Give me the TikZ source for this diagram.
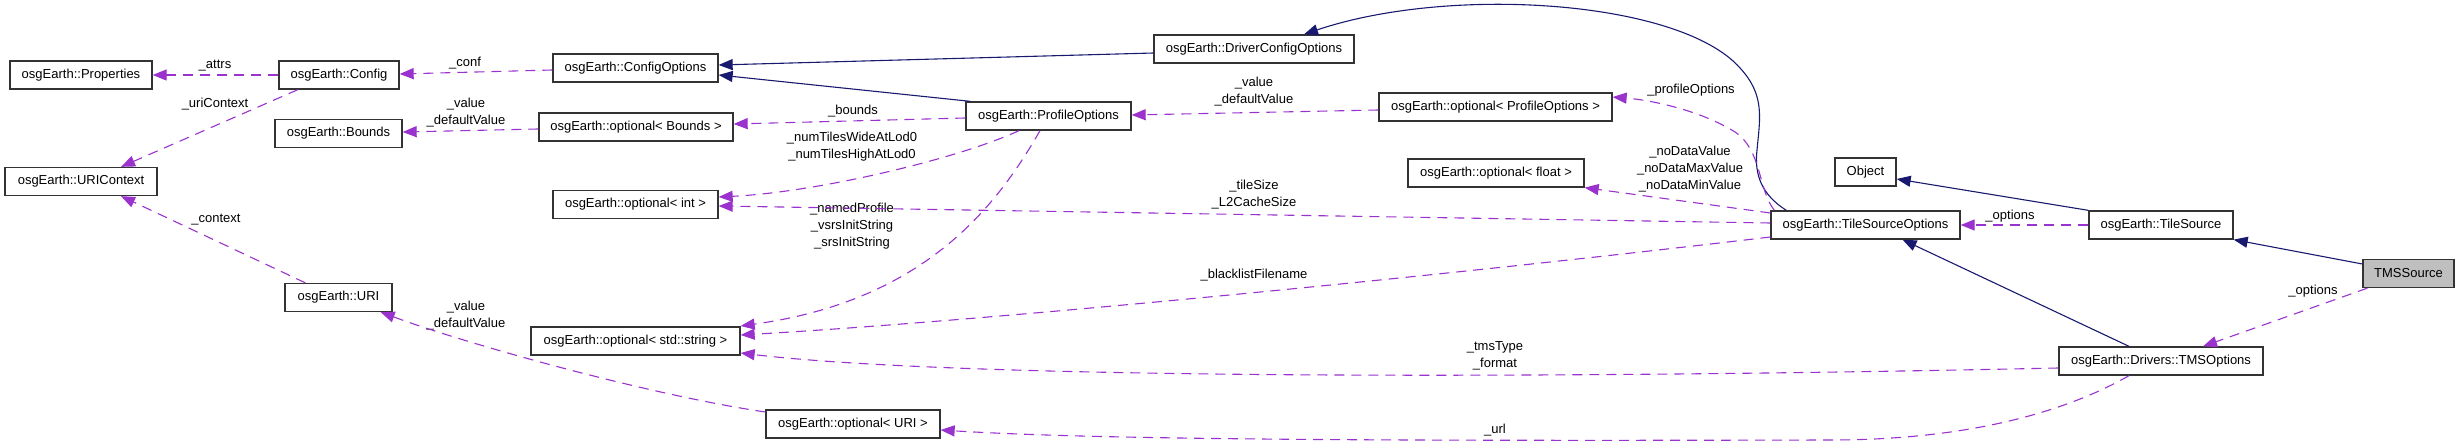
\documentclass[tikz,border=0pt]{standalone}
\usepackage{fontspec}
\setmainfont{Liberation Sans}
\usetikzlibrary{arrows.meta}
\definecolor{inhcol}{HTML}{191970}
\definecolor{usecol}{HTML}{9A32CD}
\begin{document}
\begin{tikzpicture}[x=1pt,y=-1pt,
  box/.style={draw=black!80, fill=white, line width=1.3pt, minimum height=28pt, inner sep=0pt, font=\fontsize{13}{16}\selectfont},
  lbl/.style={font=\fontsize{13}{17}\selectfont, align=center, inner sep=0pt},
  inh/.style={draw=inhcol, line width=1.1pt, -{Triangle[length=14pt,width=11pt]}},
  use/.style={draw=usecol, line width=1.1pt, dash pattern=on 10pt off 7pt, -{Triangle[length=14pt,width=11pt]}},
]
\useasboundingbox (0,0) rectangle (2459,446);
% nodes
\node[box, minimum width=142pt] (prop) at (81,75) {osgEarth::Properties};
\node[box, minimum width=120pt] (conf) at (339,75) {osgEarth::Config};
\node[box, minimum width=127pt] (bounds) at (338.5,133.5) {osgEarth::Bounds};
\node[box, minimum width=152pt] (uric) at (81,181.5) {osgEarth::URIContext};
\node[box, minimum width=107pt] (uri) at (338.5,297.5) {osgEarth::URI};
\node[box, minimum width=165pt] (copt) at (635.5,68) {osgEarth::ConfigOptions};
\node[box, minimum width=194pt] (obnd) at (636,127) {osgEarth::optional< Bounds >};
\node[box, minimum width=165pt] (oint) at (635.5,204.5) {osgEarth::optional< int >};
\node[box, minimum width=209pt] (ostr) at (635.5,341) {osgEarth::optional< std::string >};
\node[box, minimum width=174pt] (ouri) at (853,424) {osgEarth::optional< URI >};
\node[box, minimum width=165pt] (prof) at (1048.5,116) {osgEarth::ProfileOptions};
\node[box, minimum width=200pt] (dco) at (1254,49) {osgEarth::DriverConfigOptions};
\node[box, minimum width=233pt] (oprof) at (1495.5,107) {osgEarth::optional< ProfileOptions >};
\node[box, minimum width=176pt] (oflt) at (1496,173) {osgEarth::optional< float >};
\node[box, minimum width=189pt] (tso) at (1865.5,225) {osgEarth::TileSourceOptions};
\node[box, minimum width=61pt] (obj) at (1865.5,172) {Object};
\node[box, minimum width=144pt] (ts) at (2161,225) {osgEarth::TileSource};
\node[box, minimum width=204pt] (tmso) at (2161,361) {osgEarth::Drivers::TMSOptions};
\node[box, minimum width=91pt, fill=black!25] (tms) at (2408.5,273.5) {TMSSource};
% labels
\node[lbl] (l1) at (215,66) {\_attrs};
\node[lbl] (l2) at (465,63) {\_conf};
\node[lbl] (l3) at (215,104) {\_uriContext};
\node[lbl] (l4) at (466,113) {\_value\\\_defaultValue};
\node[lbl] (l5) at (216,220) {\_context};
\node[lbl] (l6) at (466,315.5) {\_value\\\_defaultValue};
\node[lbl] (l7) at (853,111) {\_bounds};
\node[lbl] (l8) at (852,146.5) {\_numTilesWideAtLod0\\\_numTilesHighAtLod0};
\node[lbl] (l9) at (852,226.5) {\_namedProfile\\\_vsrsInitString\\\_srsInitString};
\node[lbl] (l10) at (1254,92) {\_value\\\_defaultValue};
\node[lbl] (l11) at (1691,90) {\_profileOptions};
\node[lbl] (l12) at (1690,169.5) {\_noDataValue\\\_noDataMaxValue\\\_noDataMinValue};
\node[lbl] (l13) at (1254,195) {\_tileSize\\\_L2CacheSize};
\node[lbl] (l14) at (1254,275) {\_blacklistFilename};
\node[lbl] (l15) at (1495,356) {\_tmsType\\\_format};
\node[lbl] (l16) at (1495,430) {\_url};
\node[lbl] (l17) at (2010,216) {\_options};
\node[lbl] (l18) at (2313,291) {\_options};
% inheritance
\draw[inh] ([yshift=-4pt]dco.west) -- ([yshift=3pt]copt.east);
\draw[inh] ([xshift=5pt]prof.north west) -- ([yshift=-7pt]copt.east);
\draw[inh] ([xshift=16pt]tso.north west) .. controls (1762,195) and (1754,175) .. (1757,150)
  .. controls (1760,118) and (1765,95) .. (1740,68)
  .. controls (1680,0) and (1450,-15) .. ([xshift=50pt]dco.north);
\draw[inh] (ts.north west) -- ([yshift=-7pt]obj.east);
\draw[inh] ([yshift=9.5pt]tms.west) -- (ts.south east);
\draw[inh] ([xshift=-32pt]tmso.north) -- ([xshift=37pt]tso.south);
% usage
\draw[use] (conf.west) -- (prop.east);
\draw[use] ([yshift=-2pt]copt.west) -- ([yshift=1pt]conf.east);
\draw[use] ([xshift=19.5pt]conf.south west) -- ([xshift=40pt]uric.north);
\draw[use] ([xshift=21pt]uri.north west) -- ([xshift=40pt]uric.south);
\draw[use] ([yshift=-2pt]obnd.west) -- ([yshift=1.5pt]bounds.east);
\draw[use] ([yshift=-2pt]prof.west) -- ([yshift=3pt]obnd.east);
\draw[use] ([xshift=-29.5pt]prof.south) .. controls (960,158) and (820,192) .. ([yshift=7.5pt]oint.east);
\draw[use] ([yshift=2pt]tso.west) -- ([yshift=-1.5pt]oint.east);
\draw[use] ([xshift=-8.5pt]prof.south) .. controls (1000,200) and (930,300) .. ([yshift=15pt]ostr.east);
\draw[use] ([yshift=-12pt]tso.west) .. controls (1450,275) and (1000,320) .. ([yshift=6pt]ostr.east);
\draw[use] ([yshift=-7pt]tmso.west) .. controls (1500,380) and (950,378) .. ([yshift=-12pt]ostr.east);
\draw[use] ([xshift=-32pt]tmso.south) .. controls (2060,415) and (1960,440) .. (1830,440)
  .. controls (1400,441) and (1100,440) .. ([yshift=-6pt]ouri.east);
\draw[use] ([yshift=12pt]ouri.west) .. controls (650,395) and (470,345) .. ([xshift=-12pt]uri.south east);
\draw[use] (ts.west) -- (tso.east);
\draw[use] ([xshift=5pt]tms.south west) -- ([xshift=42pt]tmso.north);
\draw[use] ([xshift=4pt]tso.north west) .. controls (1758,190) and (1762,150) .. (1735,132)
  .. controls (1700,110) and (1650,100) .. ([yshift=10pt]oprof.east);
\draw[use] ([yshift=12pt]tso.west) -- (oflt.south east);
\draw[use] ([yshift=-3pt]oprof.west) -- ([yshift=1pt]prof.east);
\end{tikzpicture}
\end{document}
